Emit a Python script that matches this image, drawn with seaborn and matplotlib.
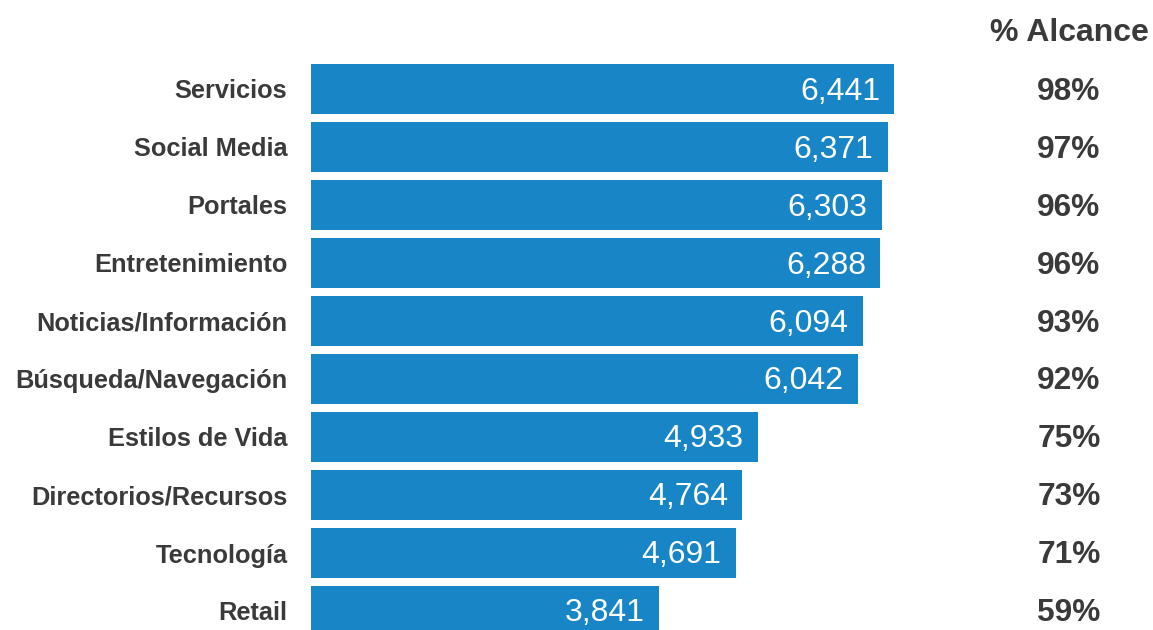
import matplotlib
matplotlib.use("Agg")
import matplotlib.pyplot as plt
import seaborn as sns
import pandas as pd

categories = ["Servicios", "Social Media", "Portales", "Entretenimiento",
              "Noticias/Información", "Búsqueda/Navegación", "Estilos de Vida",
              "Directorios/Recursos", "Tecnología", "Retail"]
visitors = [6441, 6371, 6303, 6288, 6094, 6042, 4933, 4764, 4691, 3841]
reach = [98, 97, 96, 96, 93, 92, 75, 73, 71, 59]
header = "% Alcance"

sns.set_theme(style="white")
plt.rcParams["font.family"] = ["Liberation Sans", "DejaVu Sans"]

W, H = 1153, 630
fig = plt.figure(figsize=(W / 100, H / 100), dpi=100)
left_px = 311
ax = fig.add_axes([left_px / W, 0, (W - left_px) / W, 1])

df = pd.DataFrame({"cat": categories, "val": visitors})
sns.barplot(data=df, x="val", y="cat", orient="h", color="#1785c6",
            saturation=1, width=0.86, ax=ax, edgecolor="none")

px_per_unit = (894 - left_px) / 6441
ax.set_xlim(0, (W - left_px) / px_per_unit)
pitch = 58
ax.set_ylim((H - 89) / pitch, -89 / pitch)

for s in ax.spines.values():
    s.set_visible(False)
ax.set_xticks([])
ax.set_xlabel("")
ax.set_ylabel("")
ax.tick_params(axis="y", length=0, pad=17)
for lab in ax.get_yticklabels():
    lab.set_fontsize(18.3)
    lab.set_fontweight("bold")
    lab.set_color("#3a3a3a")

dy = 2.5 / pitch
pct_x = (1069 - left_px) / px_per_unit
for i, (v, r) in enumerate(zip(visitors, reach)):
    ax.text(v - 14 / px_per_unit, i + dy, f"{v:,}", ha="right", va="center",
            color="white", fontsize=23)
    ax.text(pct_x, i + dy, f"{r}%", ha="center", va="center", color="#3a3a3a",
            fontsize=22.8, fontweight="bold", clip_on=False)
ax.text(pct_x, -56 / pitch, header, ha="center", va="center", color="#3a3a3a",
        fontsize=23, fontweight="bold", clip_on=False)

fig.savefig("out.png", dpi=100, facecolor="white")
